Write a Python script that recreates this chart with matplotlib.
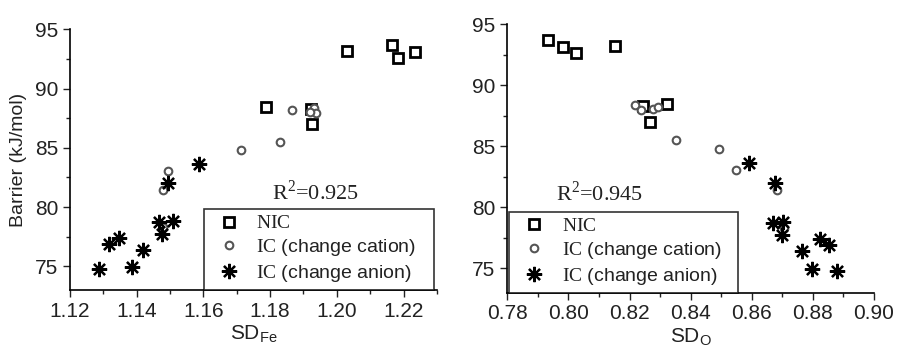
import numpy as np
import matplotlib
matplotlib.use("Agg")
import matplotlib.pyplot as plt
from matplotlib.ticker import MultipleLocator

plt.rcParams['font.family'] = ['Liberation Sans', 'DejaVu Sans']
plt.rcParams['mathtext.fontset'] = 'custom'
plt.rcParams['mathtext.rm'] = 'Liberation Serif'
plt.rcParams['mathtext.sf'] = 'Liberation Sans'

# barrier values (kJ/mol), shared by both panels
nic_y = [93.2, 93.7, 92.6, 93.1, 88.45, 88.3, 86.97]
cat_y = [88.35, 87.94, 88.02, 88.21, 85.5, 84.8, 83.05, 81.4, 78.3]
an_y = [83.6, 82.0, 78.8, 78.7, 77.7, 77.4, 76.9, 76.4, 74.9, 74.75]

# SD_Fe
nic_fe = [1.203, 1.2165, 1.2182, 1.2233, 1.1787, 1.1922, 1.1927]
cat_fe = [1.1933, 1.1938, 1.192, 1.1867, 1.183, 1.1712, 1.1493, 1.148, 1.1479]
an_fe = [1.1587, 1.1495, 1.151, 1.1468, 1.1477, 1.1347, 1.1317, 1.1418, 1.1387, 1.1287]

# SD_O
nic_o = [0.8151, 0.7932, 0.8025, 0.7983, 0.8323, 0.8245, 0.8267]
cat_o = [0.8218, 0.8236, 0.8276, 0.8294, 0.8351, 0.8494, 0.8548, 0.8684, 0.8707]
an_o = [0.8592, 0.8676, 0.8703, 0.8668, 0.8698, 0.8823, 0.8854, 0.8763, 0.8796, 0.8878]

labels = [r'$\mathrm{NIC}$', r'$\mathrm{IC}$ (change cation)', r'$\mathrm{IC}$ (change anion)']
txt = '#222222'

fig = plt.figure(figsize=(8.98, 3.48), dpi=100)
ax1 = fig.add_axes([0.078, 0.1667, 0.4085, 0.749])
ax2 = fig.add_axes([0.565, 0.159, 0.4083, 0.772])


def draw(ax, xn, xc, xa):
    ax.plot(xn, nic_y, ls='none', marker='s', ms=6.5, mfc='white', mec='black', mew=2, label=labels[0])
    ax.plot(xc, cat_y, ls='none', marker='o', ms=5.5, mfc='white', mec='#555555', mew=1.5, label=labels[1])
    ax.plot(xa, an_y, ls='none', marker=(8, 2, 0), ms=11, mec='black', mew=1.6, label=labels[2])
    for s in ['top', 'right']:
        ax.spines[s].set_visible(False)
    for s in ['left', 'bottom']:
        ax.spines[s].set_linewidth(1.2)
    ax.set_ylim(73, 95)
    ax.yaxis.set_major_locator(MultipleLocator(5))
    ax.yaxis.set_minor_locator(MultipleLocator(2.5))
    ax.tick_params(which='major', direction='out', length=5, width=1, labelsize=15, colors=txt)
    ax.tick_params(which='minor', direction='out', length=3, width=1, colors=txt)


draw(ax1, nic_fe, cat_fe, an_fe)
ax1.set_xlim(1.12, 1.23)
ax1.xaxis.set_major_locator(MultipleLocator(0.02))
ax1.xaxis.set_minor_locator(MultipleLocator(0.01))
ax1.set_xticklabels(['%.2f' % v for v in ax1.get_xticks()])
ax1.set_ylabel('Barrier (kJ/mol)', fontsize=14, color=txt, labelpad=6)
ax1.set_xlabel(r'SD$_{\mathsf{Fe}}$', fontsize=15, color=txt, labelpad=2)
ax1.text(1.1935, 81.2, r'R$^2$=0.925', family='Liberation Serif', fontsize=16, color=txt,
         ha='center', va='center')
leg1 = ax1.legend(loc='lower left', bbox_to_anchor=(0.365, 0.0, 0.628, 0.307), mode='expand',
                  fontsize=14, frameon=True, fancybox=False, borderaxespad=0,
                  handletextpad=0.4, labelspacing=0.25, borderpad=0.3)

draw(ax2, nic_o, cat_o, an_o)
ax2.set_xlim(0.78, 0.90)
ax2.xaxis.set_major_locator(MultipleLocator(0.02))
ax2.xaxis.set_minor_locator(MultipleLocator(0.01))
ax2.set_xticklabels(['%.2f' % v for v in ax2.get_xticks()])
ax2.set_xlabel(r'SD$_{\mathsf{O}}$', fontsize=15, color=txt, labelpad=2)
ax2.text(0.8103, 81.1, r'R$^2$=0.945', family='Liberation Serif', fontsize=16, color=txt,
         ha='center', va='center')
leg2 = ax2.legend(loc='lower left', bbox_to_anchor=(0.005, 0.0, 0.625, 0.308), mode='expand',
                  fontsize=14, frameon=True, fancybox=False, borderaxespad=0,
                  handletextpad=0.4, labelspacing=0.25, borderpad=0.3)

for leg in (leg1, leg2):
    fr = leg.get_frame()
    fr.set_edgecolor('black')
    fr.set_linewidth(1.2)
    for t in leg.get_texts():
        t.set_color(txt)

fig.savefig('out.png', dpi=100)
